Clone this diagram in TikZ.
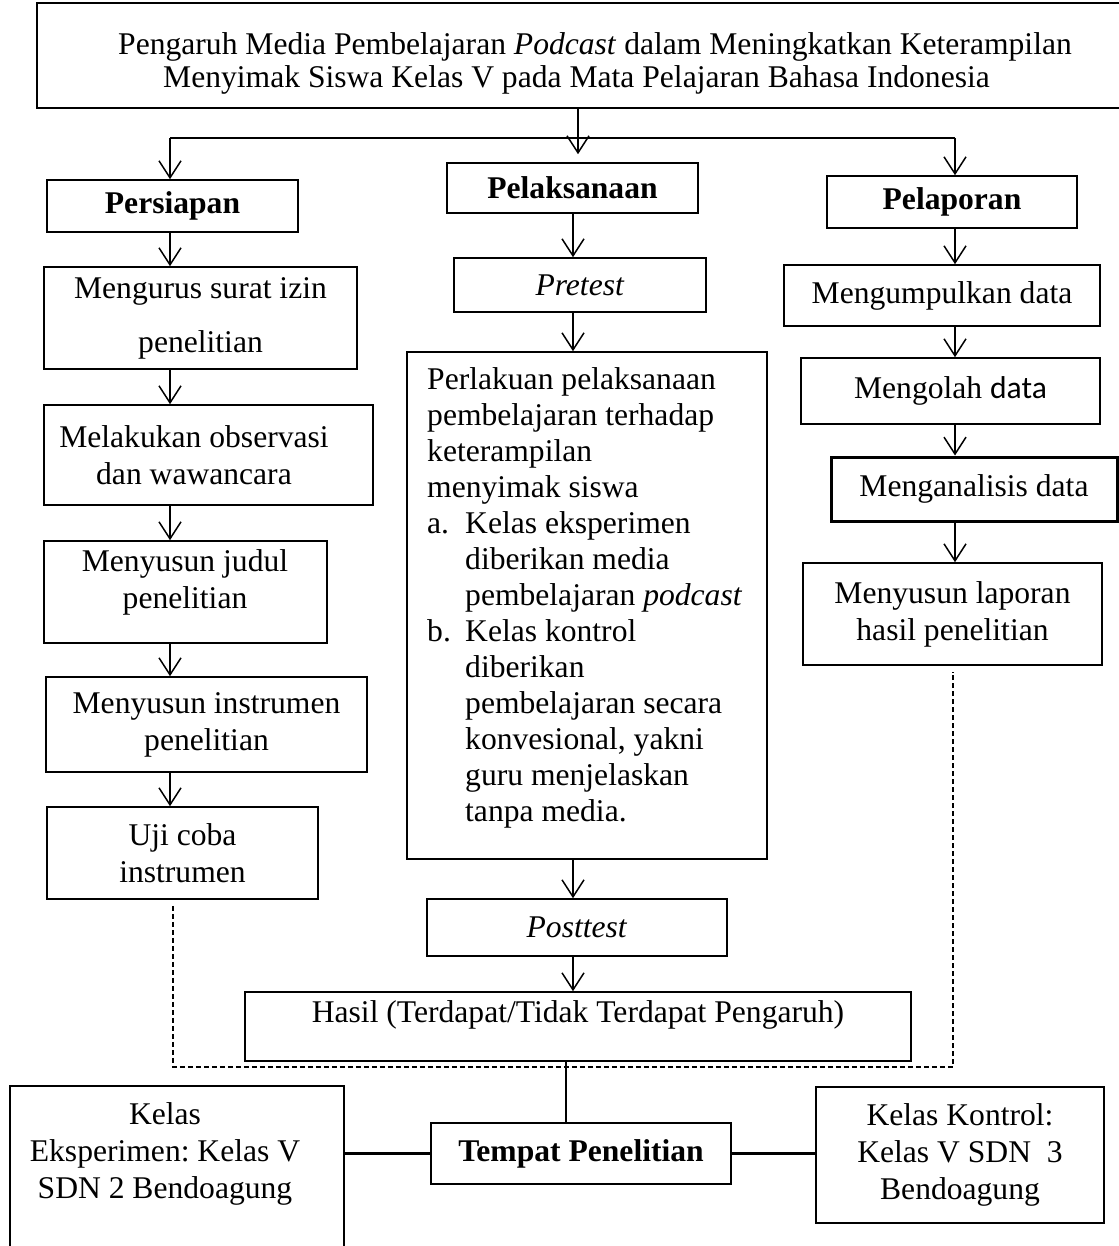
\documentclass[tikz,border=0pt]{standalone}
\usepackage{fontspec}
\setmainfont{Liberation Serif}
\newfontfamily\calibri{Carlito}
\usetikzlibrary{arrows.meta}
\frenchspacing
\begin{document}
\begin{tikzpicture}[x=1pt,y=-1pt,
  every node/.style={font=\fontsize{31.6}{37}\selectfont},
  box/.style={draw, line width=1.6pt, inner sep=0pt, align=center},
  txt/.style={inner sep=0pt, align=center},
  arr/.style={line width=1.5pt, -{Straight Barb[length=17pt,width=22pt]}},
  ln/.style={line width=1.5pt},
  dl/.style={line width=1.5pt, dash pattern=on 5pt off 3pt}]
\useasboundingbox (0,0) rectangle (1118,1246);
\fill[white] (0,0) rectangle (1118,1246);

% title
\node[box, minimum width=1088pt, minimum height=105pt] (title) at (581,55.5) {};
\node[txt, anchor=base west] (t1) at (118,55) {Pengaruh Media Pembelajaran \textit{Podcast} dalam Meningkatkan Keterampilan};
\node[txt, anchor=base west] (t2) at (163,88) {Menyimak Siswa Kelas V pada Mata Pelajaran Bahasa Indonesia};

% headers
\node[box, minimum width=251pt, minimum height=52pt] (persiapan) at (172.5,206) {\bfseries Persiapan};
\node[box, minimum width=251pt, minimum height=50pt] (pelaksanaan) at (572.5,188) {\bfseries Pelaksanaan};
\node[box, minimum width=250pt, minimum height=52pt] (pelaporan) at (952,202) {\bfseries Pelaporan};

% left column
\node[box, minimum width=313pt, minimum height=102pt] (mengurus) at (200.5,318) {Mengurus surat izin\\[17pt]penelitian};
\node[box, minimum width=329pt, minimum height=100pt] (melakukan) at (208.5,455) {};
\node[txt] (melakukant) at (194,455) {Melakukan observasi\\dan wawancara};
\node[box, minimum width=283pt, minimum height=102pt] (judul) at (185.5,592) {};
\node[txt] (judult) at (185,582) {Menyusun judul\\penelitian};
\node[box, minimum width=321pt, minimum height=95pt] (instrumen) at (206.5,724.5) {Menyusun instrumen\\penelitian};
\node[box, minimum width=271pt, minimum height=92pt] (ujicoba) at (182.5,853) {Uji coba\\instrumen};

% middle column
\node[box, minimum width=252pt, minimum height=54pt] (pretest) at (580,285) {\textit{Pretest}};
\node[box, minimum width=360pt, minimum height=507pt] (perlakuan) at (587,605.5) {};
\node[inner sep=0pt, align=left, anchor=north west, font=\fontsize{31.6}{36}\selectfont] (perlakuant) at (427,367) {Perlakuan pelaksanaan\\
pembelajaran terhadap\\
keterampilan\\
menyimak siswa\\
\makebox[38pt][l]{a.}Kelas eksperimen\\
\hspace*{38pt}diberikan media\\
\hspace*{38pt}pembelajaran \textit{podcast}\\
\makebox[38pt][l]{b.}Kelas kontrol\\
\hspace*{38pt}diberikan\\
\hspace*{38pt}pembelajaran secara\\
\hspace*{38pt}konvesional, yakni\\
\hspace*{38pt}guru menjelaskan\\
\hspace*{38pt}tanpa media.};
\node[box, minimum width=300pt, minimum height=57pt] (posttest) at (577,927.5) {\textit{Posttest}};
\node[box, minimum width=666pt, minimum height=69pt] (hasil) at (578,1026.5) {};
\node[txt] (hasilt) at (578,1015) {Hasil (Terdapat/Tidak Terdapat Pengaruh)};

% right column
\node[box, minimum width=316pt, minimum height=61pt] (mengumpulkan) at (942,295.5) {Mengumpulkan data};
\node[box, minimum width=299pt, minimum height=66pt] (mengolah) at (950.5,391) {Mengolah {\calibri data}};
\node[box, line width=3pt, minimum width=286pt, minimum height=64pt] (menganalisis) at (974,489) {Menganalisis data};
\node[box, minimum width=299pt, minimum height=102pt] (laporan) at (952.5,614) {Menyusun laporan\\hasil penelitian};

% bottom
\node[box, minimum width=300pt, minimum height=61pt] (tempat) at (581,1153.5) {\bfseries Tempat Penelitian};
\node[box, minimum width=334pt, minimum height=190pt] (kelasE) at (177,1181) {};
\node[txt] (kelasEt) at (165,1154) {Kelas\\Eksperimen: Kelas V\\SDN 2 Bendoagung};
\node[box, minimum width=288pt, minimum height=136pt] (kelasK) at (960,1155) {Kelas Kontrol:\\Kelas V SDN\ \ 3\\Bendoagung};

% helper coordinates
\coordinate (ax) at (170,0);
\coordinate (mx) at (573,0);
\coordinate (rx) at (955,0);
\coordinate (jn) at (578,138);
\coordinate (db) at (0,1067);
\coordinate (dlx) at (173,0);
\coordinate (drx) at (953,0);
\coordinate (hx) at (566,0);

% top connectors
\draw[arr, shorten >=8pt] (title.south -| jn) -- (pelaksanaan.north -| jn);
\draw[ln] (jn -| ax) -- (jn -| rx);
\draw[arr] (jn -| ax) -- (persiapan.north -| ax);
\draw[arr] (jn -| rx) -- (pelaporan.north -| rx);

% left arrows
\draw[arr] (persiapan.south -| ax) -- (mengurus.north -| ax);
\draw[arr] (mengurus.south -| ax) -- (melakukan.north -| ax);
\draw[arr] (melakukan.south -| ax) -- (judul.north -| ax);
\draw[arr] (judul.south -| ax) -- (instrumen.north -| ax);
\draw[arr] (instrumen.south -| ax) -- (ujicoba.north -| ax);

% middle arrows
\draw[arr] (pelaksanaan.south -| mx) -- (pretest.north -| mx);
\draw[arr] (pretest.south -| mx) -- (perlakuan.north -| mx);
\draw[arr] (perlakuan.south -| mx) -- (posttest.north -| mx);
\draw[arr] (posttest.south -| mx) -- (hasil.north -| mx);

% right arrows
\draw[arr] (pelaporan.south -| rx) -- (mengumpulkan.north -| rx);
\draw[arr] (mengumpulkan.south -| rx) -- (mengolah.north -| rx);
\draw[arr] (mengolah.south -| rx) -- (menganalisis.north -| rx);
\draw[arr] (menganalisis.south -| rx) -- (laporan.north -| rx);

% dashed
\draw[dl] ([yshift=-6pt]ujicoba.south -| dlx) -- (db -| dlx) -- (db -| drx) -- ([yshift=-6pt]laporan.south -| drx);

% bottom connectors
\draw[ln] (hasil.south -| hx) -- (tempat.north -| hx);
\draw[line width=2.2pt] (tempat.west) -- (tempat.west -| kelasE.east);
\draw[line width=2.2pt] (tempat.east) -- (tempat.east -| kelasK.west);
\end{tikzpicture}
\end{document}
